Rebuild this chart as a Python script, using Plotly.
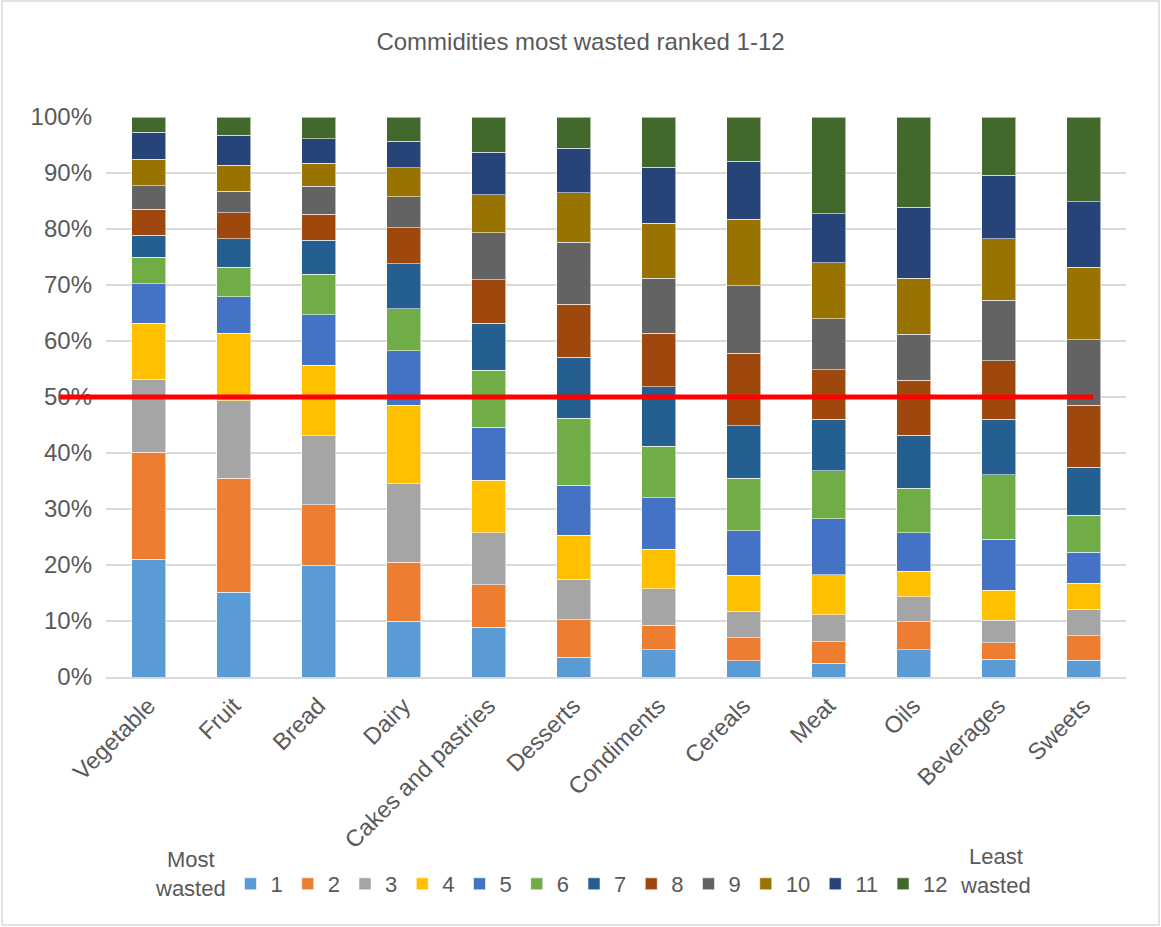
import plotly.graph_objects as go

categories = ["Vegetable", "Fruit", "Bread", "Dairy", "Cakes and pastries", "Desserts",
              "Condiments", "Cereals", "Meat", "Oils", "Beverages", "Sweets"]

rank_1 = [21.0, 15.1, 20.0, 10.0, 8.9, 3.5, 4.9, 2.9, 2.5, 4.9, 3.2, 3.0]
rank_2 = [19.1, 20.4, 10.8, 10.5, 7.6, 6.7, 4.3, 4.1, 3.8, 5.0, 2.9, 4.4]
rank_3 = [13.1, 13.8, 12.3, 14.0, 9.3, 7.3, 6.6, 4.7, 4.8, 4.4, 4.0, 4.7]
rank_4 = [10.0, 12.1, 12.6, 14.0, 9.3, 7.8, 7.0, 6.5, 7.2, 4.6, 5.4, 4.6]
rank_5 = [7.0, 6.5, 9.0, 9.8, 9.5, 8.9, 9.2, 7.9, 10.0, 6.9, 9.1, 5.6]
rank_6 = [4.8, 5.3, 7.2, 7.5, 10.2, 12.0, 9.2, 9.4, 8.5, 7.9, 11.5, 6.6]
rank_7 = [3.9, 5.1, 6.1, 8.0, 8.4, 10.9, 10.6, 9.4, 9.2, 9.5, 9.9, 8.6]
rank_8 = [4.6, 4.6, 4.6, 6.4, 7.7, 9.5, 9.6, 12.9, 8.9, 9.8, 10.5, 11.0]
rank_9 = [4.2, 3.8, 5.0, 5.6, 8.4, 11.0, 9.8, 12.1, 9.1, 8.2, 10.8, 11.7]
rank_10 = [4.8, 4.7, 4.1, 5.1, 6.8, 8.9, 9.8, 11.8, 10.0, 10.0, 11.0, 13.0]
rank_11 = [4.8, 5.3, 4.4, 4.8, 7.6, 7.9, 10.0, 10.4, 8.7, 12.7, 11.3, 11.7]
rank_12 = [2.7, 3.3, 3.9, 4.3, 6.3, 5.6, 9.0, 7.9, 17.3, 16.1, 10.4, 15.1]

rank_names = ["1", "2", "3", "4", "5", "6", "7", "8", "9", "10", "11", "12"]
rank_values = [rank_1, rank_2, rank_3, rank_4, rank_5, rank_6,
               rank_7, rank_8, rank_9, rank_10, rank_11, rank_12]
rank_colors = ["#5B9BD5", "#ED7D31", "#A5A5A5", "#FFC000", "#4472C4", "#70AD47",
               "#255E91", "#9E480E", "#636363", "#997300", "#264478", "#43682B"]

threshold = 50

FONT_REG = "Liberation Sans, Arial, sans-serif"
GREY = "#595959"

W, H = 1161, 927
ML, MR, MT, MB = 106, 35, 117, 250
PW = W - ML - MR
PH = H - MT - MB

fig = go.Figure()
for name, vals, col in zip(rank_names, rank_values, rank_colors):
    fig.add_trace(go.Bar(
        x=categories, y=vals, name=name,
        marker=dict(color=col, line=dict(color="rgba(255,255,255,0.55)", width=1)),
    ))

def px_x(px):
    return (px - ML) / PW

def px_y(py):
    return (H - MB - py) / PH

fig.update_layout(
    width=W, height=H,
    margin=dict(l=ML, r=MR, t=MT, b=MB, autoexpand=False),
    paper_bgcolor="white", plot_bgcolor="white",
    barmode="stack", barnorm="percent", bargap=0.6,
    font=dict(family=FONT_REG, color=GREY, size=20),
    title=dict(text="Commidities most wasted ranked 1-12", x=0.5, xanchor="center",
               y=1 - 42 / H, yanchor="middle",
               font=dict(family=FONT_REG, size=24, color=GREY)),
    xaxis=dict(tickangle=-45, showgrid=False, showline=True, linecolor="#D9D9D9",
               linewidth=1.5, ticks="", tickfont=dict(size=23.5, color=GREY, family=FONT_REG),
               ticklabelstandoff=4),
    yaxis=dict(range=[0, 100], dtick=10, ticksuffix="%", showgrid=True,
               gridcolor="#D9D9D9", gridwidth=1.5, zeroline=False, showline=False,
               ticks="", tickfont=dict(size=24, color=GREY, family=FONT_REG),
               ticklabelstandoff=13),
    legend=dict(orientation="h", x=px_x(592), xanchor="center", y=px_y(884),
                yanchor="middle", traceorder="normal",
                font=dict(size=22, color=GREY, family=FONT_REG)),
    showlegend=True,
)

fig.add_shape(type="line", xref="paper", yref="y", x0=px_x(60), x1=px_x(1093),
              y0=threshold, y1=threshold, line=dict(color="#FF0000", width=5))

fig.add_shape(type="rect", xref="paper", yref="paper",
              x0=px_x(2), x1=px_x(1159), y0=px_y(925), y1=px_y(1),
              line=dict(color="#D9D9D9", width=1.5), layer="below")

fig.add_annotation(text="Most<br>wasted", xref="paper", yref="paper",
                   x=px_x(190), y=px_y(874), xanchor="center", yanchor="middle",
                   showarrow=False, font=dict(size=22, color=GREY, family=FONT_REG))
fig.add_annotation(text="Least<br>wasted", xref="paper", yref="paper",
                   x=px_x(995), y=px_y(871), xanchor="center", yanchor="middle",
                   showarrow=False, font=dict(size=22, color=GREY, family=FONT_REG))

fig.write_html("out.html")
